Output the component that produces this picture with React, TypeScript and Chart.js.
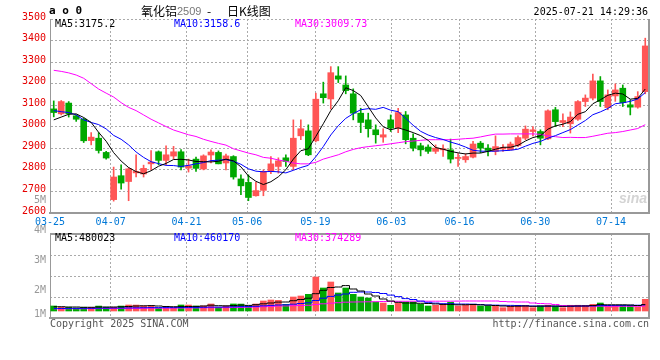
import React, { useEffect, useRef } from "react";
import { Chart, registerables } from "chart.js";
Chart.register(...registerables);

// ---------------- data ----------------
const N = 80; // trading days 2025-03-25 .. 2025-07-21
const TICK_LABELS = ["03-25", "04-07", "04-21", "05-06", "05-19", "06-03", "06-16", "06-30", "07-14"];
const TICK_INDEX = [0, 8, 18, 26, 35, 45, 54, 64, 74];

const OPEN = [
  3083, 3060, 3110, 3051, 3035, 2936, 2947, 2881, 2662, 2773,
  2746, 2786, 2781, 2828, 2884, 2844, 2864, 2884, 2808, 2850,
  2804, 2869, 2881, 2832, 2862, 2758, 2742, 2680, 2705, 2796,
  2816, 2856, 2816, 2958, 2981, 2935, 3153, 3129, 3236, 3194,
  3153, 3063, 3032, 2986, 2952, 3032, 2994, 3055, 2947, 2912,
  2906, 2886, 2893, 2893, 2853, 2847, 2859, 2924, 2901, 2886,
  2897, 2893, 2913, 2947, 2978, 2978, 2944, 3079, 3020, 3014,
  3035, 3117, 3133, 3213, 3089, 3143, 3179, 3102, 3091, 3163,
];
const CLOSE = [
  3066, 3117, 3060, 3035, 2935, 2952, 2890, 2855, 2767, 2739,
  2805, 2793, 2807, 2836, 2844, 2870, 2884, 2813, 2819, 2807,
  2865, 2883, 2828, 2865, 2767, 2726, 2672, 2704, 2793, 2828,
  2842, 2839, 2947, 2991, 2870, 3128, 3135, 3251, 3221, 3168,
  3063, 3020, 2991, 2963, 2963, 2994, 3066, 2940, 2901, 2893,
  2886, 2901, 2898, 2850, 2858, 2862, 2920, 2901, 2890, 2908,
  2904, 2920, 2950, 2989, 2986, 2947, 3074, 3024, 3029, 3045,
  3117, 3133, 3213, 3117, 3148, 3171, 3112, 3091, 3140, 3375,
];
const HIGH = [
  3120, 3122, 3117, 3055, 3040, 2973, 2973, 2886, 2813, 2824,
  2810, 2870, 2822, 2889, 2888, 2912, 2909, 2894, 2850, 2860,
  2870, 2893, 2888, 2873, 2866, 2777, 2777, 2742, 2800, 2862,
  2856, 2870, 3032, 3032, 3009, 3156, 3207, 3279, 3279, 3236,
  3176, 3086, 3063, 3009, 2991, 3055, 3086, 3071, 2967, 2924,
  2916, 2916, 2916, 2943, 2876, 2875, 2932, 2932, 2917, 2958,
  2917, 2929, 2958, 3004, 3001, 2986, 3079, 3090, 3060, 3069,
  3122, 3148, 3244, 3233, 3171, 3199, 3194, 3125, 3163, 3411,
];
const LOW = [
  3046, 3055, 3045, 3025, 2927, 2916, 2878, 2850, 2655, 2711,
  2657, 2767, 2767, 2800, 2824, 2824, 2851, 2800, 2790, 2793,
  2800, 2832, 2828, 2800, 2757, 2685, 2657, 2678, 2680, 2782,
  2785, 2816, 2800, 2940, 2866, 2930, 3110, 3082, 3205, 3153,
  3032, 2973, 2952, 2924, 2928, 2978, 2973, 2921, 2888, 2865,
  2876, 2876, 2862, 2832, 2816, 2835, 2855, 2880, 2865, 2870,
  2886, 2893, 2908, 2940, 2958, 2916, 2940, 3001, 3001, 2971,
  3030, 3094, 3125, 3094, 3079, 3118, 3094, 3055, 3086, 3153,
];
const MA5 = [
  3032, 3045, 3058, 3060, 3043, 3020, 2974, 2933, 2880, 2841,
  2811, 2792, 2782, 2796, 2817, 2830, 2848, 2849, 2846, 2839,
  2838, 2837, 2840, 2850, 2842, 2814, 2772, 2747, 2732, 2745,
  2768, 2801, 2850, 2889, 2898, 2955, 3014, 3075, 3121, 3181,
  3168, 3145, 3093, 3041, 3000, 2986, 2995, 2985, 2973, 2959,
  2937, 2904, 2896, 2886, 2879, 2874, 2878, 2878, 2886, 2896,
  2905, 2905, 2914, 2934, 2950, 2958, 2989, 3004, 3012, 3024,
  3058, 3070, 3107, 3125, 3146, 3156, 3152, 3128, 3132, 3175.2,
];
const MA10 = [
  3075, 3070, 3066, 3055, 3032, 3020, 3010, 2990, 2960, 2942,
  2916, 2883, 2858, 2838, 2829, 2821, 2820, 2816, 2821, 2828,
  2834, 2843, 2845, 2848, 2840, 2826, 2805, 2794, 2791, 2793,
  2791, 2786, 2798, 2811, 2821, 2861, 2908, 2962, 3005, 3039,
  3061, 3079, 3084, 3081, 3090, 3077, 3070, 3039, 3007, 2979,
  2962, 2950, 2941, 2929, 2919, 2906, 2891, 2887, 2886, 2887,
  2889, 2891, 2896, 2910, 2923, 2932, 2947, 2959, 2973, 2987,
  3008, 3029, 3056, 3069, 3085, 3107, 3111, 3118, 3129, 3158.6,
];
const MA30 = [
  3262, 3257, 3250, 3240, 3225, 3200, 3175, 3156, 3138, 3112,
  3090, 3075, 3055, 3035, 3018, 3001, 2985, 2974, 2963, 2955,
  2942, 2932, 2923, 2915, 2898, 2888, 2878, 2870, 2858, 2854,
  2846, 2840, 2832, 2828, 2828, 2835, 2850, 2860, 2870, 2884,
  2895, 2903, 2908, 2912, 2916, 2921, 2926, 2931, 2934, 2937,
  2940, 2940, 2940, 2940, 2942, 2945, 2947, 2953, 2960, 2966,
  2966, 2967, 2967, 2967, 2967, 2965, 2958, 2954, 2950, 2951,
  2950, 2950, 2956, 2963, 2970, 2973, 2978, 2985, 2992, 3009.73,
];

// volume, thousands
const VOLUME = [
  375, 280, 280, 225, 280, 275, 370, 278, 282, 372,
  450, 445, 380, 376, 205, 200, 210, 452, 448, 374,
  378, 525, 280, 372, 528, 520, 378, 525, 750, 825,
  800, 500, 1050, 1125, 1250, 2550, 1725, 2175, 1350, 1725,
  1250, 1050, 975, 675, 600, 428, 600, 675, 680, 500,
  375, 428, 502, 652, 375, 428, 502, 375, 372, 378,
  248, 352, 428, 425, 248, 375, 428, 352, 248, 428,
  430, 426, 502, 600, 352, 428, 425, 428, 300, 878,
];
const VOL_MA5 = [
  322, 322, 300, 300, 278, 278, 300, 300, 300, 315,
  338, 375, 390, 405, 375, 338, 322, 330, 338, 345,
  375, 435, 398, 390, 412, 442, 420, 472, 540, 600,
  668, 675, 772, 862, 960, 1298, 1552, 1762, 1800, 1905,
  1650, 1500, 1275, 1125, 900, 750, 652, 600, 600, 578,
  562, 532, 495, 495, 465, 472, 488, 465, 435, 412,
  375, 352, 360, 375, 352, 368, 375, 375, 352, 368,
  375, 375, 405, 480, 465, 465, 465, 450, 412, 480,
];
const VOL_MA10 = [
  188, 188, 195, 195, 202, 202, 210, 218, 225, 225,
  232, 240, 248, 255, 255, 255, 255, 262, 270, 270,
  278, 292, 292, 300, 315, 330, 338, 352, 390, 420,
  450, 465, 510, 562, 615, 788, 960, 1095, 1200, 1275,
  1402, 1425, 1425, 1388, 1312, 1192, 1080, 930, 862, 742,
  652, 592, 548, 544, 521, 521, 510, 480, 450, 439,
  428, 420, 412, 390, 375, 368, 360, 360, 345, 352,
  371, 379, 386, 405, 412, 420, 420, 428, 432, 460,
];
const VOL_MA30 = [
  165, 165, 172, 172, 172, 180, 180, 188, 188, 188,
  195, 195, 202, 210, 210, 218, 218, 225, 225, 232,
  240, 248, 248, 255, 262, 270, 285, 300, 322, 345,
  375, 382, 398, 412, 428, 488, 540, 585, 622, 660,
  675, 682, 690, 698, 712, 720, 728, 728, 735, 735,
  735, 735, 735, 735, 742, 750, 750, 750, 750, 750,
  712, 690, 675, 675, 600, 562, 540, 488, 412, 390,
  375, 368, 360, 360, 352, 352, 352, 352, 352, 374,
];
const VOL_AXIS_MAX = 5775; // thousands, top of volume panel
const VOL_LABEL_VALUES = [4, 3, 2, 1.2];
const PRICE_MIN = 2600;
const PRICE_MAX = 3500;
const PRICE_STEP = 100;
const VOL_5M_AT = 2650;

// ---------------- style ----------------
const RED = "#ff5555";
const GREEN = "#00a800";
const GRID = "#aaaaaa";
const FRAME = "#999999";
const MONO = '"DejaVu Sans Mono", monospace';
const DASH = [2, 2];

const candleColors = OPEN.map((o, i) => (CLOSE[i] >= o ? RED : GREEN));
const gridValue = (i: number) => (i * N) / (N - 1) - 0.5;
const idx = OPEN.map((_, i) => i);

const rightBorder = {
  id: "rightBorder",
  afterDraw(chart: any) {
    const { ctx, chartArea } = chart;
    ctx.save();
    ctx.strokeStyle = FRAME;
    ctx.lineWidth = 2;
    ctx.beginPath();
    ctx.moveTo(chartArea.right, chartArea.top);
    ctx.lineTo(chartArea.right, chartArea.bottom);
    ctx.stroke();
    ctx.restore();
  },
};

function lineDs(values: number[], color: string, stepped: any = false) {
  return {
    type: "line" as const,
    data: values.map((y, i) => ({ x: i, y })),
    borderColor: color,
    borderWidth: 1,
    pointRadius: 0,
    tension: 0,
    stepped,
    order: 0,
  };
}

function noPad(s: any) {
  s.paddingTop = 0;
  s.paddingBottom = 0;
}

function xScale(showLabels: boolean) {
  return {
    type: "linear" as const,
    min: -0.5,
    max: N - 0.5,
    offset: false,
    grid: { offset: false, color: GRID, drawTicks: false, lineWidth: 1 },
    border: { display: true, color: FRAME, width: 2, dash: DASH },
    ticks: {
      display: showLabels,
      autoSkip: false,
      maxRotation: 0,
      color: "#0078d7",
      padding: 3,
      font: { family: MONO, size: 10 },
      callback: (_v: any, i: number) => TICK_LABELS[i],
    },
    afterBuildTicks: (s: any) => {
      s.ticks = TICK_INDEX.map((i) => ({ value: gridValue(i) }));
    },
    afterFit: (s: any) => {
      s.height = showLabels ? 15 : 0;
    },
  };
}

function PriceChart() {
  const ref = useRef<HTMLCanvasElement>(null);
  useEffect(() => {
    const chart = new Chart(ref.current!, {
      type: "bar",
      data: {
        datasets: [
          lineDs(MA5, "#000000"),
          lineDs(MA10, "#0000ff"),
          lineDs(MA30, "#ff00ff"),
          {
            type: "bar",
            data: idx.map((i) => ({ x: i, y: [LOW[i], HIGH[i]] })),
            backgroundColor: candleColors,
            barThickness: 1,
            grouped: false,
            order: 2,
          } as any,
          {
            type: "bar",
            data: idx.map((i) => ({ x: i, y: [OPEN[i], CLOSE[i]] })),
            backgroundColor: candleColors,
            barThickness: 6,
            minBarLength: 1,
            grouped: false,
            order: 1,
          } as any,
        ],
      },
      options: {
        animation: false,
        responsive: false,
        maintainAspectRatio: false,
        layout: { padding: { top: 19, right: 11, left: 0, bottom: 0 } },
        plugins: { legend: { display: false }, tooltip: { enabled: false } },
        scales: {
          x: xScale(true) as any,
          y: {
            type: "linear",
            position: "left",
            min: PRICE_MIN,
            max: PRICE_MAX,
            grid: {
              drawTicks: false,
              color: (c: any) => (c.tick && c.tick.value === VOL_5M_AT ? "rgba(0,0,0,0)" : GRID),
            },
            border: { display: true, color: FRAME, width: 1, dash: DASH },
            ticks: {
              stepSize: PRICE_STEP,
              padding: 4,
              labelOffset: -2,
              font: { family: MONO, size: 10 },
              color: (c: any) => (c.tick && c.tick.value === VOL_5M_AT ? "#999999" : "#e60000"),
              callback: (v: any) => (v === VOL_5M_AT ? "5M" : String(v)),
            },
            afterBuildTicks: (s: any) => {
              const t = [];
              for (let v = PRICE_MIN; v <= PRICE_MAX; v += PRICE_STEP) t.push({ value: v });
              t.splice(1, 0, { value: VOL_5M_AT });
              s.ticks = t;
            },
            afterFit: (s: any) => {
              s.width = 50;
              noPad(s);
            },
          } as any,
        },
      },
      plugins: [rightBorder],
    });
    return () => chart.destroy();
  }, []);
  return <canvas ref={ref} width={660} height={228} style={{ position: "absolute", left: 0, top: 0 }} />;
}

function VolumeChart() {
  const ref = useRef<HTMLCanvasElement>(null);
  useEffect(() => {
    const chart = new Chart(ref.current!, {
      type: "bar",
      data: {
        datasets: [
          lineDs(VOL_MA5, "#000000", "middle"),
          lineDs(VOL_MA10, "#0000ff", "middle"),
          lineDs(VOL_MA30, "#ff00ff", "middle"),
          {
            type: "bar",
            data: idx.map((i) => ({ x: i, y: VOLUME[i] })),
            backgroundColor: candleColors,
            barThickness: 6,
            grouped: false,
            order: 1,
            yAxisID: "y",
          } as any,
        ],
      },
      options: {
        animation: false,
        responsive: false,
        maintainAspectRatio: false,
        layout: { padding: { top: 12, right: 11, left: 0, bottom: 4 } },
        plugins: { legend: { display: false }, tooltip: { enabled: false } },
        scales: {
          x: xScale(false) as any,
          y: {
            type: "linear",
            position: "right",
            min: -VOL_AXIS_MAX / 11,
            max: VOL_AXIS_MAX,
            grid: {
              drawTicks: false,
              color: (c: any) => (c.index === 4 ? FRAME : GRID),
              lineWidth: (c: any) => (c.index === 4 ? 2 : 1),
            },
            border: { display: true, color: FRAME, width: 2, dash: (c: any) => (c.index === 4 ? [] : DASH) },
            ticks: { display: false },
            afterBuildTicks: (s: any) => {
              s.ticks = [0, 1, 2, 3, 4].map((k) => ({ value: s.min + (k * (s.max - s.min)) / 4 }));
            },
            afterFit: (s: any) => {
              s.width = 0;
              noPad(s);
            },
          } as any,
          yl: {
            type: "linear",
            position: "left",
            min: 1.2,
            max: 4,
            grid: { display: false, drawTicks: false },
            border: { display: true, color: FRAME, width: 1 },
            ticks: {
              padding: 4,
              labelOffset: -4,
              color: "#999999",
              font: { family: MONO, size: 10 },
              callback: (v: any) => `${Math.round(v)}M`,
            },
            afterBuildTicks: (s: any) => {
              s.ticks = VOL_LABEL_VALUES.map((v) => ({ value: v }));
            },
            afterFit: (s: any) => {
              s.width = 50;
              noPad(s);
            },
          } as any,
        },
      },
    });
    return () => chart.destroy();
  }, []);
  return <canvas ref={ref} width={660} height={100} style={{ position: "absolute", left: 0, top: 222 }} />;
}

function Txt(p: {
  x: number;
  y: number;
  children: any;
  color?: string;
  size?: number;
  right?: boolean;
  bold?: boolean;
  italic?: boolean;
  family?: string;
  lh?: number;
}) {
  return (
    <div
      style={{
        position: "absolute",
        left: p.right ? undefined : p.x,
        right: p.right ? 660 - p.x : undefined,
        top: p.y,
        color: p.color || "#000",
        fontSize: p.size || 10,
        lineHeight: `${p.lh || 12}px`,
        fontFamily: p.family || MONO,
        fontWeight: p.bold ? "bold" : "normal",
        fontStyle: p.italic ? "italic" : "normal",
        whiteSpace: "pre",
      }}
    >
      {p.children}
    </div>
  );
}

export default function App() {
  const CJK = '"Noto Sans CJK SC", sans-serif';
  return (
    <div style={{ position: "fixed", left: 0, top: 0, width: 660, height: 360, background: "#fff", overflow: "hidden" }}>
      <PriceChart />
      <VolumeChart />
      <Txt x={49} y={5} size={11} bold>a o 0</Txt>
      <Txt x={141} y={4} size={12} lh={14} family={CJK}>氧化铝</Txt>
      <Txt x={177} y={4} size={11} lh={14} color="#777" family='"Liberation Sans", sans-serif'>2509</Txt>
      <Txt x={207} y={4} size={12} lh={14} family={CJK}>-</Txt>
      <Txt x={227} y={4} size={12} lh={14} family={CJK}>日K线图</Txt>
      <Txt x={648} y={6} right>2025-07-21 14:29:36</Txt>
      <Txt x={55} y={18}>MA5:3175.2</Txt>
      <Txt x={174} y={18} color="#0000ff">MA10:3158.6</Txt>
      <Txt x={295} y={18} color="#ff00ff">MA30:3009.73</Txt>
      <Txt x={55} y={232}>MA5:480023</Txt>
      <Txt x={174} y={232} color="#0000ff">MA10:460170</Txt>
      <Txt x={295} y={232} color="#ff00ff">MA30:374289</Txt>
      <Txt x={619} y={192} size={14} bold italic color="#d4d4d4" family='"Liberation Sans", sans-serif'>sina</Txt>
      <Txt x={50} y={318} color="#555">Copyright 2025 SINA.COM</Txt>
      <Txt x={649} y={318} right color="#555">http://finance.sina.com.cn</Txt>
    </div>
  );
}
